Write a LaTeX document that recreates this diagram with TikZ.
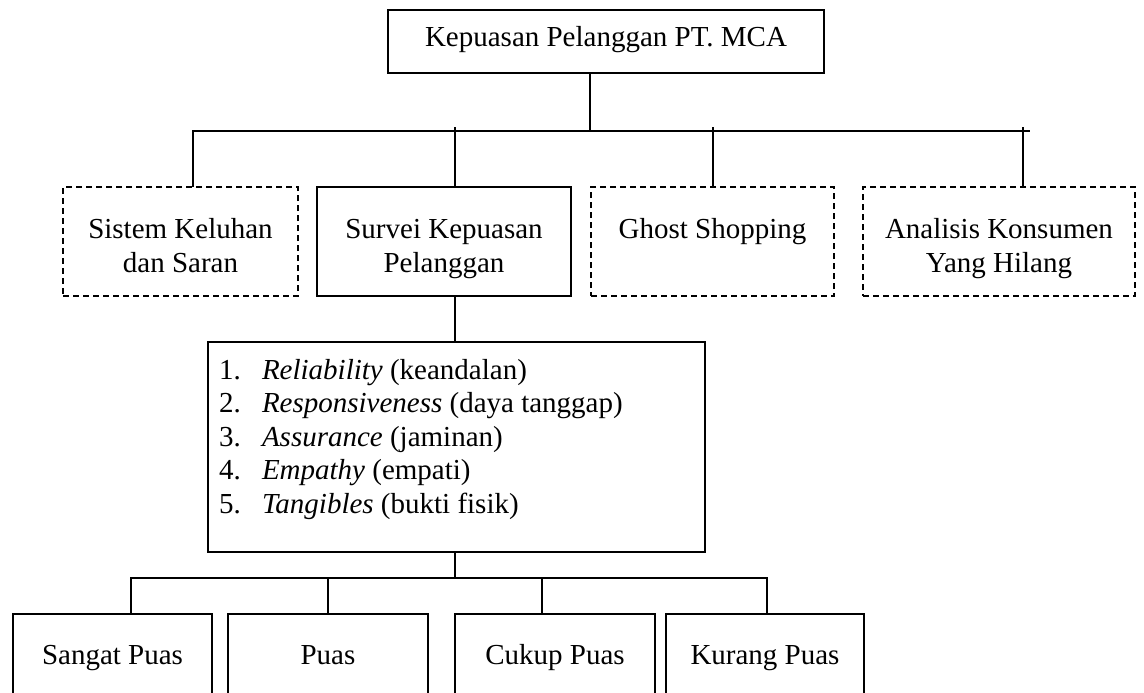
\documentclass[tikz,border=0pt]{standalone}
\usepackage{fontspec}
\setmainfont{Liberation Serif}
\newcommand{\bxt}[4]{\parbox[c][#2][t]{#1}{\centering\rule{0pt}{#3}#4}}
\newcommand{\litem}[3]{\hspace*{11pt}\makebox[43pt][l]{#1}\textit{#2} #3}
\begin{document}
\begin{tikzpicture}[x=1pt,y=-1pt,line width=1.3pt,
  every node/.style={font=\fontsize{29}{34}\selectfont,inner sep=0pt,outer sep=0pt,rectangle},
  solidbox/.style={draw},
  dashbox/.style={draw,dash pattern=on 6pt off 4pt}]
\useasboundingbox (0,0) rectangle (1144,693);
\fill[white] (0,0) rectangle (1144,693);
\clip (0,0) rectangle (1144,693);

% level 0
\node[solidbox] (top) at (606,41.5) {\bxt{436pt}{63pt}{37pt}{Kepuasan Pelanggan PT. MCA}};

% level 1
\node[dashbox]  (s1) at (180.5,241.5) {\bxt{235pt}{109pt}{51pt}{Sistem Keluhan\\dan Saran}};
\node[solidbox] (s2) at (444,241.5)   {\bxt{254pt}{109pt}{51pt}{Survei Kepuasan\\Pelanggan}};
\node[dashbox]  (s3) at (712.5,241.5) {\bxt{243pt}{109pt}{51pt}{Ghost Shopping}};
\node[dashbox]  (s4) at (999,241.5)   {\bxt{272pt}{109pt}{51pt}{Analisis Konsumen\\Yang Hilang}};

% list
\node[solidbox] (list) at (456.5,447) {\parbox[c][210pt][t]{497pt}{\raggedright\fontsize{29}{33.6}\selectfont
  \rule{0pt}{37pt}\litem{1.}{Reliability}{(keandalan)}\\
  \litem{2.}{Responsiveness}{(daya tanggap)}\\
  \litem{3.}{Assurance}{(jaminan)}\\
  \litem{4.}{Empathy}{(empati)}\\
  \litem{5.}{Tangibles}{(bukti fisik)}}};

% level 3
\node[solidbox] (c1) at (112.5,656) {\bxt{199pt}{84pt}{50pt}{Sangat Puas}};
\node[solidbox] (c2) at (328,656)   {\bxt{200pt}{84pt}{50pt}{Puas}};
\node[solidbox] (c3) at (555,656)   {\bxt{200pt}{84pt}{50pt}{Cukup Puas}};
\node[solidbox] (c4) at (765,656)   {\bxt{198pt}{84pt}{50pt}{Kurang Puas}};

% connectors level 0 -> 1
\coordinate (j0) at (590,131);
\coordinate (busL) at (193,131);
\coordinate (busR) at (1030,131);
\coordinate (t2) at (455,127);
\coordinate (t3) at (713,127);
\coordinate (t4) at (1023,127);
\draw (top.south -| j0) -- (j0);
\draw (s1.north -| busL) -- (busL) -- (busR);
\draw (t2) -- (t2 |- s2.north);
\draw (t3) -- (t3 |- s3.north);
\draw (t4) -- (t4 |- s4.north);

% survey -> list -> results
\coordinate (j2) at (455,578);
\draw (s2.south -| j2) -- (list.north -| j2);
\draw (list.south -| j2) -- (j2);
\coordinate (bus2L) at (131,578);
\coordinate (bus2R) at (767,578);
\coordinate (k2) at (328,578);
\coordinate (k3) at (542,578);
\draw (c1.north -| bus2L) -- (bus2L) -- (bus2R) -- (bus2R |- c4.north);
\draw (k2) -- (k2 |- c2.north);
\draw (k3) -- (k3 |- c3.north);
\end{tikzpicture}
\end{document}
